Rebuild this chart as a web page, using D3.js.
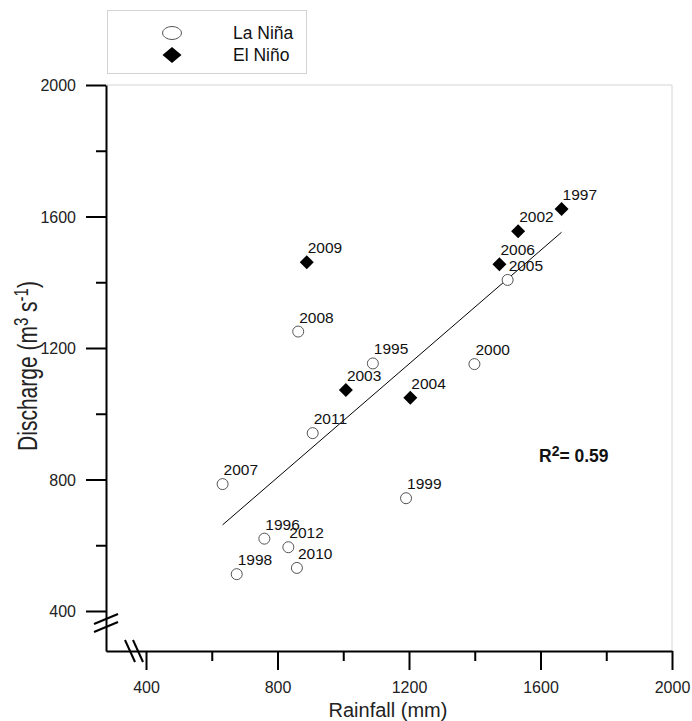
<!DOCTYPE html>
<html>
<head>
<meta charset="utf-8">
<script src="https://cdn.jsdelivr.net/npm/d3@7"></script>
<style>
  body { margin: 0; background: #fff; }
  text { font-family: "Liberation Sans", Arial, sans-serif; }
</style>
</head>
<body>
<div id="chart"></div>
<script>
//Wrap everything in a self-executing anonymous function to move to local scope
(function(){

    //pseudo-global variables
    var years    = ["1995","1996","1997","1998","1999","2000","2002","2003","2004","2005","2006","2007","2008","2009","2010","2011","2012"];
    var phase    = ["La","La","El","La","La","La","El","El","El","La","El","La","La","El","La","La","La"]; // La Niña / El Niño
    var rainfall = [1090, 760, 1664, 676, 1191, 1399, 1532, 1008, 1204, 1500, 1475, 633, 863, 889, 859, 907, 833]; // mm
    var discharge= [1153, 620, 1623, 512, 743, 1151, 1555, 1072, 1049, 1407, 1455, 786, 1250, 1461, 531, 941, 594]; // m3 s-1

    // regression line end points
    var fitX = [633, 1664];
    var fitY = [662, 1552];

    var majorTicks = [400, 800, 1200, 1600, 2000];
    var minorTicks = [600, 1000, 1400, 1800];
    var legendLabels = ["La Niña", "El Niño"];
    var r2Label = "0.59";

    var axisMin = 278.3; // value where the broken axes meet

    var width = 692, height = 721;
    var svg = d3.select("#chart").append("svg")
        .attr("width", width)
        .attr("height", height);

    var x = d3.scaleLinear().domain([axisMin, 2000]).range([106, 672]);
    var y = d3.scaleLinear().domain([axisMin, 2000]).range([651, 85]);

    // light frame on top and right
    svg.append("path")
        .attr("d", "M" + x(axisMin) + "," + y(2000) + "H" + x(2000) + "V" + y(axisMin))
        .attr("fill", "none")
        .attr("stroke", "#d4d4d4")
        .attr("stroke-width", 1);

    //x axis with major and minor ticks
    var xAxis = svg.append("g")
        .attr("transform", "translate(0," + y(axisMin) + ")")
        .call(d3.axisBottom(x).tickValues(majorTicks).tickSize(19).tickSizeOuter(0).tickPadding(12).tickFormat(d3.format("d")));
    svg.append("g")
        .attr("transform", "translate(0," + y(axisMin) + ")")
        .call(d3.axisBottom(x).tickValues(minorTicks).tickSize(10).tickSizeOuter(0).tickFormat(""))
        .select(".domain").remove();

    //y axis
    var yAxis = svg.append("g")
        .attr("transform", "translate(" + x(axisMin) + ",0)")
        .call(d3.axisLeft(y).tickValues(majorTicks).tickSize(20).tickSizeOuter(0).tickPadding(10).tickFormat(d3.format("d")));
    svg.append("g")
        .attr("transform", "translate(" + x(axisMin) + ",0)")
        .call(d3.axisLeft(y).tickValues(minorTicks).tickSize(10).tickSizeOuter(0).tickFormat(""))
        .select(".domain").remove();

    svg.selectAll(".domain, .tick line")
        .attr("stroke", "#000")
        .attr("stroke-width", 2);
    svg.selectAll(".tick text")
        .attr("font-size", "16px")
        .attr("fill", "#222")
        .style("font-family", "'Liberation Sans', Arial, sans-serif");
    yAxis.selectAll(".tick text").attr("dy", "0.35em");

    // axis break marks
    var breaks = svg.append("g").attr("stroke", "#000").attr("stroke-width", 2);
    [-4, 4].forEach(function(off){
        var cy = y(axisMin) - 28 + off;
        breaks.append("line")
            .attr("x1", x(axisMin) - 12).attr("y1", cy + 5)
            .attr("x2", x(axisMin) + 12).attr("y2", cy - 5);
        var cx = x(axisMin) + 28 + off;
        breaks.append("line")
            .attr("x1", cx - 5).attr("y1", y(axisMin) - 11)
            .attr("x2", cx + 5).attr("y2", y(axisMin) + 11);
    });

    // axis titles
    svg.append("text")
        .attr("x", 388).attr("y", 717)
        .attr("text-anchor", "middle")
        .attr("font-size", "20px")
        .attr("fill", "#222")
        .text("Rainfall (mm)");

    // y title glyphs are stretched across the page in the original
    var yTitle = svg.append("text")
        .attr("transform", "translate(37,366) rotate(-90) scale(1,1.3)")
        .attr("text-anchor", "middle")
        .attr("font-size", "21px")
        .attr("fill", "#222");
    yTitle.append("tspan").text("Discharge (m");
    yTitle.append("tspan").attr("font-size", "15px").attr("dy", "-7").text("3");
    yTitle.append("tspan").attr("dy", "7").text(" s");
    yTitle.append("tspan").attr("font-size", "15px").attr("dy", "-7").text("-1");
    yTitle.append("tspan").attr("dy", "7").text(")");

    //diamond path generator
    function diamond(cx, cy, hw, hh){
        return "M" + cx + "," + (cy - hh) + "L" + (cx + hw) + "," + cy +
               "L" + cx + "," + (cy + hh) + "L" + (cx - hw) + "," + cy + "Z";
    };

    // regression line
    svg.append("line")
        .attr("x1", x(fitX[0])).attr("y1", y(fitY[0]))
        .attr("x2", x(fitX[1])).attr("y2", y(fitY[1]))
        .attr("stroke", "#000")
        .attr("stroke-width", 1);

    // points
    var points = years.map(function(yr, i){
        return { year: yr, phase: phase[i], rain: rainfall[i], q: discharge[i] };
    });

    var marks = svg.append("g");
    points.forEach(function(d){
        if (d.phase == "La"){
            marks.append("circle")
                .attr("cx", x(d.rain)).attr("cy", y(d.q)).attr("r", 5.5)
                .attr("fill", "#fff")
                .attr("stroke", "#555")
                .attr("stroke-width", 1);
        } else {
            marks.append("path")
                .attr("d", diamond(x(d.rain), y(d.q), 7, 7))
                .attr("fill", "#000");
        }
    });

    // year labels
    svg.append("g").selectAll("text")
        .data(points)
        .enter()
        .append("text")
        .attr("x", function(d){ return x(d.rain) + 1; })
        .attr("y", function(d){ return y(d.q) - 9; })
        .attr("font-size", "15.5px")
        .attr("fill", "#111")
        .text(function(d){ return d.year; });

    // R2 annotation
    var r2 = svg.append("text")
        .attr("x", 539).attr("y", 462)
        .attr("font-size", "17.5px")
        .attr("font-weight", "bold")
        .attr("fill", "#111");
    r2.append("tspan").text("R");
    r2.append("tspan").attr("font-size", "14px").attr("dy", "-6").text("2");
    r2.append("tspan").attr("dy", "6").text("= " + r2Label);

    // legend
    var legend = svg.append("g");
    legend.append("rect")
        .attr("x", 107.5).attr("y", 10.5)
        .attr("width", 199).attr("height", 63)
        .attr("fill", "#fff")
        .attr("stroke", "#d4d4d4");
    legend.append("ellipse")
        .attr("cx", 172).attr("cy", 33)
        .attr("rx", 9.5).attr("ry", 6.5)
        .attr("fill", "#fff")
        .attr("stroke", "#555");
    legend.append("path")
        .attr("d", diamond(172, 55, 9.5, 8))
        .attr("fill", "#000");
    legend.selectAll(".lab")
        .data(legendLabels)
        .enter()
        .append("text")
        .attr("class", "lab")
        .attr("x", 233)
        .attr("y", function(d, i){ return 39 + i * 22; })
        .attr("font-size", "17.5px")
        .attr("fill", "#111")
        .text(function(d){ return d; });

})();
</script>
</body>
</html>
